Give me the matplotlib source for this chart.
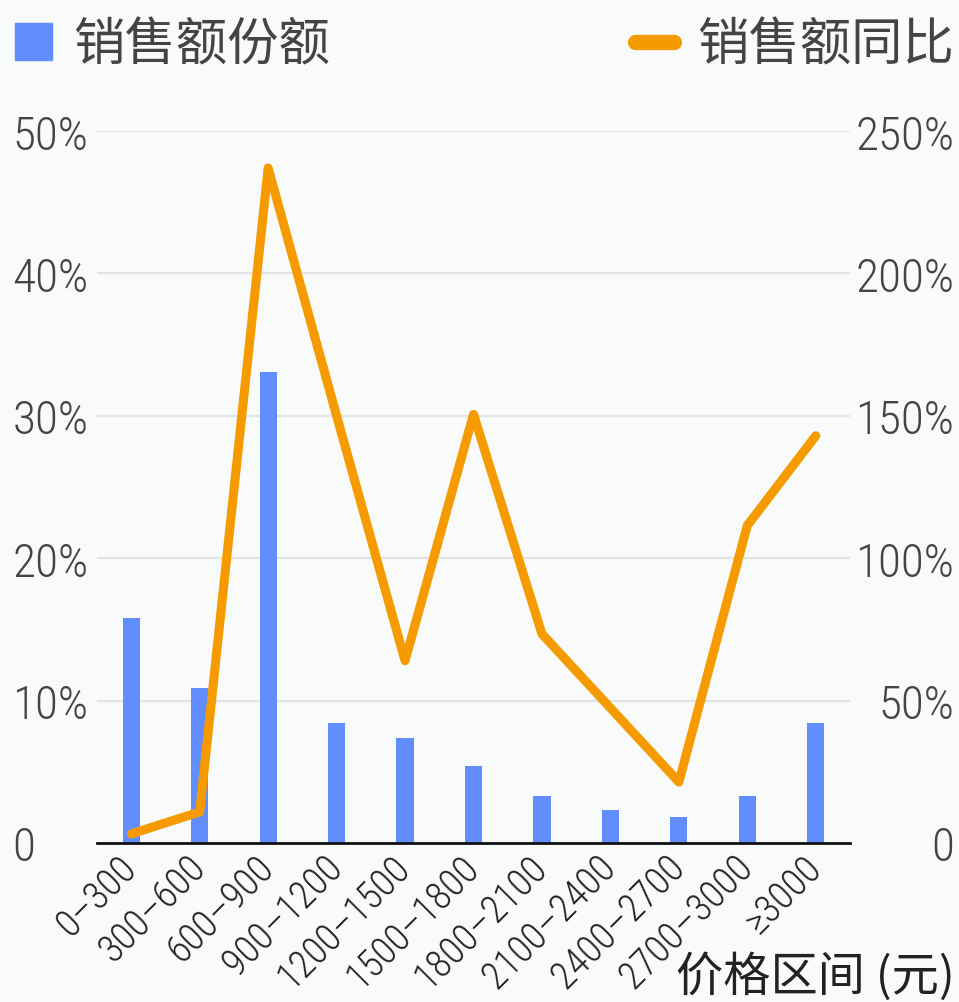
import matplotlib
matplotlib.use('Agg')
import matplotlib.pyplot as plt
from matplotlib.lines import Line2D
from matplotlib.patches import Patch
from matplotlib.ticker import FuncFormatter
import numpy as np

# Data
categories = ['0–300', '300–600', '600–900', '900–1200', '1200–1500', '1500–1800',
              '1800–2100', '2100–2400', '2400–2700', '2700–3000', '≥3000']
share_pct = [15.8, 10.9, 33.1, 8.4, 7.4, 5.4, 3.3, 2.3, 1.8, 3.3, 8.4]       # 销售额份额 (%)
yoy_pct = [3.2, 10.9, 237.0, 150.0, 64.0, 150.5, 73.4, 47.4, 21.4, 111.5, 143.0]  # 销售额同比 (%)

left_ticks = [0, 10, 20, 30, 40, 50]
right_ticks = [0, 50, 100, 150, 200, 250]

BG = '#F9FAFA'
BLUE = '#628DFF'
ORANGE = '#F59B00'
TICK_COLOR = '#444444'

num_family = ['Roboto Condensed', 'Roboto', 'DejaVu Sans']
cjk_font = ['Noto Sans CJK SC', 'DejaVu Sans']

fig = plt.figure(figsize=(9.59, 10.03), dpi=100, facecolor=BG)
ax = fig.add_axes([97 / 959, 1 - 844 / 1003, (850 - 97) / 959, (844 - 132) / 1003])
ax.set_facecolor(BG)
ax2 = ax.twinx()

x = np.arange(len(categories))
bars = ax.bar(x, share_pct, width=0.25, color=BLUE, zorder=2)
ax2.plot(x, yoy_pct, color=ORANGE, linewidth=6.5, solid_capstyle='round',
         solid_joinstyle='round', zorder=3, clip_on=False)

ax.set_xlim(-0.5, len(categories) - 0.5)
ax.set_ylim(0, 50)
ax2.set_ylim(0, 250)

ax.set_yticks(left_ticks)
ax2.set_yticks(right_ticks)
ax.yaxis.set_major_formatter(FuncFormatter(lambda v, p: '0' if v == 0 else f'{v:.0f}%'))
ax2.yaxis.set_major_formatter(FuncFormatter(lambda v, p: '0' if v == 0 else f'{v:.0f}%'))

ax.grid(axis='y', color='#E2E4E4', linewidth=1.6, zorder=0)
ax.set_axisbelow(True)

for a in (ax, ax2):
    for side in ('left', 'right', 'top'):
        a.spines[side].set_visible(False)
    a.tick_params(length=0)
ax.spines['bottom'].set_color('#111111')
ax.spines['bottom'].set_linewidth(2)
ax2.spines['bottom'].set_visible(False)

ax.tick_params(axis='y', pad=61)
ax2.tick_params(axis='y', pad=75)
for lab in ax.get_yticklabels():
    lab.set_ha('left')
    lab.set_color(TICK_COLOR)
    lab.set_fontproperties(dict(family=num_family, weight='light', size=34))
for lab in ax2.get_yticklabels():
    lab.set_ha('right')
    lab.set_color(TICK_COLOR)
    lab.set_fontproperties(dict(family=num_family, weight='light', size=34))

ax.set_xticks(x)
ax.set_xticklabels(categories, rotation=45, ha='right', va='center',
                   rotation_mode='anchor', color='#222222')
for lab in ax.get_xticklabels():
    lab.set_fontproperties(dict(family=num_family, weight='light', size=27.5))
ax.tick_params(axis='x', pad=13)

# legends in the two top corners
leg1 = fig.legend([Patch(color=BLUE)], ['销售额份额'], loc='center left',
                  bbox_to_anchor=(0.0, 1 - 46 / 1003), frameon=False,
                  prop=dict(family=cjk_font, weight='light', size=37),
                  handlelength=0.72, handleheight=0.72, handletextpad=0.4,
                  borderaxespad=0, borderpad=0.3, labelcolor='#444444')
leg2 = fig.legend([Line2D([], [], color=ORANGE, linewidth=11, solid_capstyle='round')],
                  ['销售额同比'], loc='center right',
                  bbox_to_anchor=(1.0, 1 - 46 / 1003), frameon=False,
                  prop=dict(family=cjk_font, weight='light', size=37),
                  handlelength=0.75, handletextpad=0.45,
                  borderaxespad=0, borderpad=0.1, labelcolor='#444444')

fig.text(955 / 959, 1 - 978 / 1003, '价格区间 (元)', ha='right', va='center',
         fontsize=34, color='#222222', family=cjk_font)

fig.savefig('out.png', dpi=100, facecolor=BG)
